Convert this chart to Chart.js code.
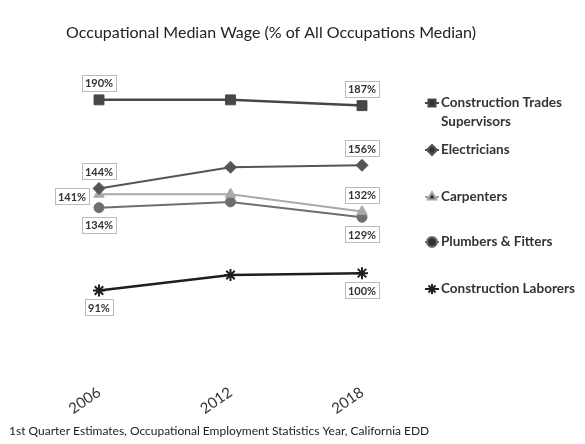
<!DOCTYPE html>
<html>
<head>
<meta charset="utf-8">
<script src="https://cdn.jsdelivr.net/npm/chart.js@4"></script>
<style>
  html, body { margin: 0; padding: 0; background: #fff; }
  #wrap { width: 585px; height: 444px; position: relative; }
</style>
</head>
<body>
<div id="wrap"><canvas id="wageChart"></canvas></div>
<script>
// values (% of all occupations median)
const years = ['2006', '2012', '2018'];
const supervisors = [190, 190, 187];
const electricians = [144, 155, 156];
const carpenters = [141, 141, 132];
const plumbers = [134, 137, 129];
const laborers = [91, 99, 100];

const titleText = 'Occupational Median Wage (% of All Occupations Median)';
const footText = '1st Quarter Estimates, Occupational Employment Statistics Year, California EDD';

// where each point's value box sits ('' = no box)
const labelSide = [
    ['top', '', 'top'],
    ['top', '', 'top'],
    ['left', '', 'top'],
    ['bottom', '', 'bottom'],
    ['bottom', '', 'bottom']
];

// legend rows: text lines + y position
const legendRows = [
    { lines: ['Construction Trades', 'Supervisors'], y: 103 },
    { lines: ['Electricians'], y: 150 },
    { lines: ['Carpenters'], y: 197 },
    { lines: ['Plumbers & Fitters'], y: 242 },
    { lines: ['Construction Laborers'], y: 289 }
];

function series(label, data, color, style, radius, width) {
    return {
        label: label,
        data: data,
        borderColor: color,
        backgroundColor: color,
        pointBackgroundColor: color,
        pointBorderColor: color,
        pointStyle: style,
        pointRadius: radius,
        pointHoverRadius: radius,
        borderWidth: width,
        pointBorderWidth: style === 'star' ? 2 : 1,
        tension: 0
    };
}

const extras = {
    id: 'extras',
    afterDatasetsDraw(chart) {
        const ctx = chart.ctx;
        ctx.save();

        // title
        ctx.fillStyle = '#222';
        ctx.font = '16px Lato';
        ctx.textAlign = 'center';
        ctx.textBaseline = 'middle';
        ctx.fillText(titleText, 271, 33);

        // footer
        ctx.font = '12px Lato';
        ctx.textAlign = 'left';
        ctx.fillStyle = '#222';
        ctx.fillText(footText, 9, 431);

        // value boxes
        ctx.font = 'bold 11px Lato';
        chart.data.datasets.forEach((ds, i) => {
            const meta = chart.getDatasetMeta(i);
            meta.data.forEach((pt, j) => {
                const side = labelSide[i][j];
                if (!side) return;
                const txt = ds.data[j] + '%';
                let x = pt.x, y = pt.y;
                if (side === 'top') y -= 17;
                if (side === 'bottom') y += 17;
                if (side === 'left') { x -= 27; y += 2; }
                const w = ctx.measureText(txt).width + 6, h = 16;
                ctx.fillStyle = '#fff';
                ctx.fillRect(x - w / 2, y - h / 2, w, h);
                ctx.setLineDash([1, 1]);
                ctx.strokeStyle = '#777';
                ctx.lineWidth = 1;
                ctx.strokeRect(Math.round(x - w / 2) + 0.5, Math.round(y - h / 2) + 0.5, Math.round(w), h);
                ctx.setLineDash([]);
                ctx.fillStyle = '#333';
                ctx.textAlign = 'center';
                ctx.fillText(txt, x, y + 1);
            });
        });

        // legend
        ctx.font = 'bold 13.5px Lato';
        ctx.textAlign = 'left';
        chart.data.datasets.forEach((ds, i) => {
            const row = legendRows[i];
            const mx = 432, my = row.y;
            ctx.strokeStyle = ds.borderColor;
            ctx.lineWidth = 2;
            ctx.beginPath();
            ctx.moveTo(mx - 7, my);
            ctx.lineTo(mx + 7, my);
            ctx.stroke();
            Chart.helpers.drawPoint(ctx, {
                pointStyle: ds.pointStyle,
                radius: Math.min(ds.pointRadius, 5),
                borderWidth: ds.pointBorderWidth
            }, mx, my);
            ctx.fillStyle = '#333';
            row.lines.forEach((t, k) => {
                ctx.fillText(t, 441, my + k * 19);
            });
        });
        ctx.restore();
    }
};

const ctxWage = document.getElementById('wageChart').getContext('2d');
new Chart(ctxWage, {
    type: 'line',
    data: {
        labels: years,
        datasets: [
            series('Construction Trades Supervisors', supervisors, '#474747', 'rect', 7, 2.5),
            series('Electricians', electricians, '#555555', 'rectRot', 6, 2),
            series('Carpenters', carpenters, '#a9a9a9', 'triangle', 6, 2),
            series('Plumbers & Fitters', plumbers, '#6e6e6e', 'circle', 5, 2),
            series('Construction Laborers', laborers, '#1e1e1e', 'star', 6, 2.5)
        ]
    },
    options: {
        responsive: true,
        maintainAspectRatio: false,
        animation: false,
        layout: {
            padding: { left: 99, right: 223, top: 70, bottom: -3 }
        },
        plugins: {
            legend: { display: false },
            title: { display: false },
            tooltip: { enabled: false }
        },
        scales: {
            x: {
                offset: false,
                grid: { display: false },
                border: { display: false },
                ticks: {
                    color: '#333',
                    font: { family: 'Lato', size: 15 },
                    minRotation: 35,
                    maxRotation: 35,
                    padding: 29
                }
            },
            y: {
                display: false,
                min: 62,
                max: 205.5
            }
        }
    },
    plugins: [extras]
});
</script>
</body>
</html>
